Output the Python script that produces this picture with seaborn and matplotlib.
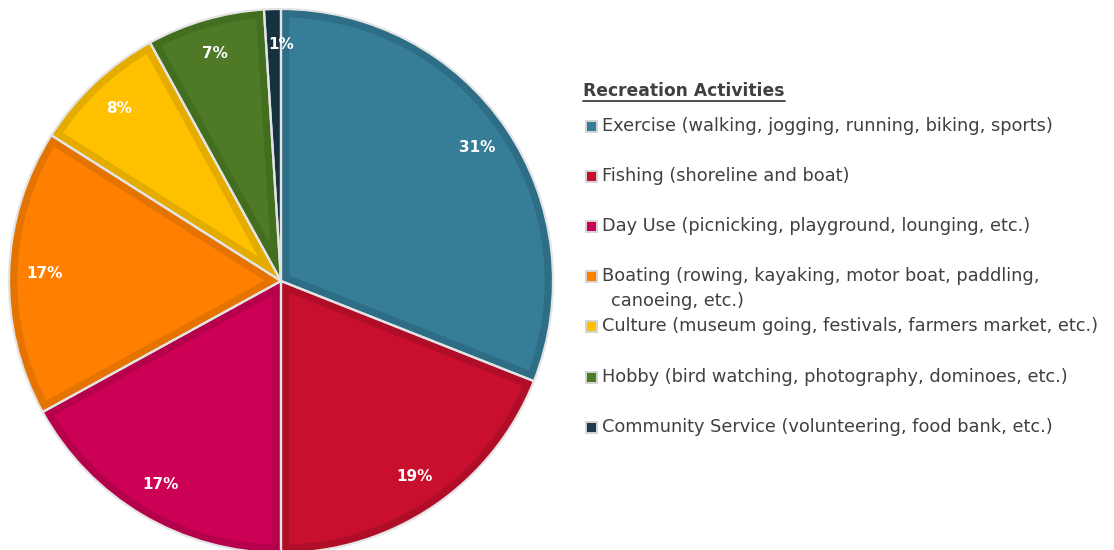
import matplotlib
matplotlib.use("Agg")
import matplotlib.pyplot as plt
import seaborn as sns
from matplotlib.patches import Rectangle

categories = [
    "Exercise (walking, jogging, running, biking, sports)",
    "Fishing (shoreline and boat)",
    "Day Use (picnicking, playground, lounging, etc.)",
    "Boating (rowing, kayaking, motor boat, paddling,\ncanoeing, etc.)",
    "Culture (museum going, festivals, farmers market, etc.)",
    "Hobby (bird watching, photography, dominoes, etc.)",
    "Community Service (volunteering, food bank, etc.)",
]
values = [31, 19, 17, 17, 8, 7, 1]
pct_labels = ["31%", "19%", "17%", "17%", "8%", "7%", "1%"]
colors = ["#367E98", "#C8102E", "#CC0055", "#FF8000", "#FFC000", "#4E7A27", "#1C3C4E"]
dark_colors = ["#2D6D85", "#B00D28", "#B5004B", "#E57300", "#E5AC00", "#436E1F", "#163240"]
legend_title = "Recreation Activities"

sns.set_theme(style="white")
plt.rcParams['font.family'] = ['DejaVu Sans']

fig = plt.figure(figsize=(11.14, 5.5), dpi=100)
W, H = 1114, 550
cx, cy, r = 281, 281, 272
ax = fig.add_axes([(cx - r) / W, (H - cy - r) / H, 2 * r / W, 2 * r / H])
wedges, texts = ax.pie(values, colors=colors, startangle=90, counterclock=False,
                       radius=1, labels=pct_labels, labeldistance=0.87,
                       textprops=dict(color="white", fontweight="bold", fontsize=11))
for w, dc in zip(wedges, dark_colors):
    w.set_edgecolor(dc)
    w.set_linewidth(12)
    w.set_clip_path(w)
    w.set_clip_on(True)
for t in texts:
    t.set_ha("center")
    t.set_va("center")
# the tiny slice's label sits straddling the slice in the reference
x_small, y_small = texts[-1].get_position()
texts[-1].set_position((0.0, y_small))
ax.pie(values, colors=["none"] * len(values), startangle=90, counterclock=False,
       radius=1, wedgeprops=dict(edgecolor="#E4E4E4", linewidth=1.6, fill=False))
ax.set_xlim(-1, 1)
ax.set_ylim(-1, 1)
ax.set_aspect("equal")
ax.axis("off")

# legend (manual, pixel coordinates)
lax = fig.add_axes([0, 0, 1, 1])
lax.set_xlim(0, W)
lax.set_ylim(H, 0)
lax.axis("off")
txtcol = "#404040"
lax.text(583, 91, legend_title, fontsize=12.3, fontweight="bold", color=txtcol,
         va="center", ha="left")
lax.plot([583, 785], [101, 101], color=txtcol, lw=1.3)
ys = [126, 176, 226, 276, 326, 377, 427]
for cat, col, y in zip(categories, colors, ys):
    lax.add_patch(Rectangle((586, y - 5.5), 11, 11, facecolor=col, edgecolor="#D6D6D6", lw=1.4))
    for k, line in enumerate(cat.split("\n")):
        lax.text(602 + (9 if k else 0), y + 25 * k, line, fontsize=12.8, color=txtcol,
                 va="center", ha="left")

fig.savefig("out.png", dpi=100)
